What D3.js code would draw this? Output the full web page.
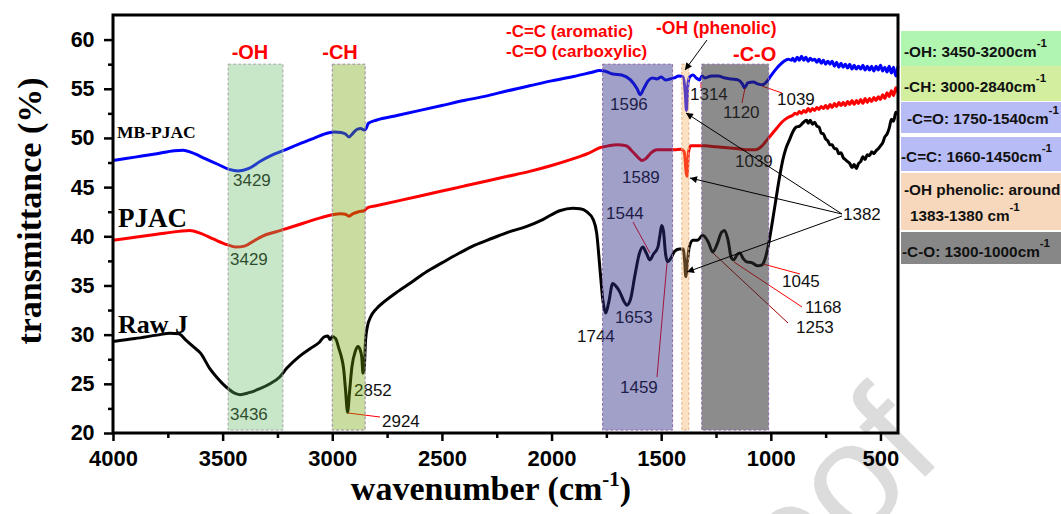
<!DOCTYPE html>
<html><head><meta charset="utf-8">
<script src="https://cdn.jsdelivr.net/npm/d3@7"></script>
<style>body{margin:0;background:#fff}svg{display:block}</style>
</head><body>
<svg id="chart" width="1061" height="514"></svg>
<script>
// ---------- data: FTIR spectra [wavenumber cm-1, transmittance %] ----------
const mbpjac = [
 [4000,47.7],[3900,48.05],[3800,48.4],[3720,48.7],[3680,48.75],[3640,48.5],[3580,47.9],[3520,47.3],[3470,46.8],[3429,46.65],
 [3380,46.9],[3330,47.6],[3280,48.2],[3225,48.7],[3150,49.4],[3080,50.0],[3020,50.5],[2990,50.6],[2960,50.55],[2940,50.4],
 [2924,50.1],[2905,50.5],[2885,50.9],[2870,50.95],[2855,50.8],[2845,51.0],[2835,51.5],[2800,51.8],[2700,52.3],[2600,52.8],
 [2500,53.3],[2400,53.8],[2300,54.25],[2200,54.8],[2100,55.3],[2000,55.8],[1900,56.25],[1820,56.65],[1780,56.85],[1760,56.8],
 [1720,56.5],[1680,56.4],[1640,55.9],[1610,55.0],[1596,54.4],[1580,55.0],[1560,55.8],[1540,56.1],[1520,56.0],[1500,56.2],
 [1480,55.9],[1460,56.0],[1440,56.1],[1420,56.3],[1400,56.2],[1390,54.5],[1385,52.8],[1378,55.5],[1370,56.2],[1355,56.4],
 [1340,56.1],[1325,55.9],[1314,56.3],[1300,56.1],[1270,56.3],[1240,56.3],[1210,56.1],[1180,56.0],[1150,55.9],[1130,55.5],
 [1120,55.1],[1105,55.6],[1080,55.7],[1060,55.5],[1039,55.4],[1020,55.7],[1000,56.3],[980,56.9],[960,57.4],[940,57.8],
 [920,58.0],[905,57.9],[900,58.1],[890,57.8],[880,58.2],[870,57.9],[860,58.3],[850,57.9],[840,58.2],[830,57.8],
 [820,58.1],[810,57.9],[800,58.0],[790,57.7],[780,58.0],[770,57.6],[760,57.9],[750,57.5],[740,57.8],[730,57.5],
 [720,57.8],[710,57.3],[700,57.7],[690,57.2],[680,57.6],[670,57.2],[660,57.5],[650,57.1],[640,57.5],[630,57.0],
 [620,57.4],[610,57.0],[600,57.3],[590,57.0],[580,57.4],[570,56.9],[560,57.3],[550,56.9],[540,57.3],[530,56.8],
 [520,57.3],[510,56.9],[500,57.4],[490,56.8],[480,57.2],[470,56.7],[460,57.3],[450,56.6],[440,57.2],[430,56.3],[420,57.3]
];
const pjac = [
 [4000,39.6],[3900,39.9],[3800,40.2],[3700,40.5],[3650,40.6],[3600,40.3],[3540,39.7],[3480,39.15],[3440,38.9],[3400,39.0],
 [3360,39.5],[3320,40.0],[3250,40.5],[3150,41.2],[3050,41.9],[3000,42.2],[2960,42.3],[2940,42.25],[2924,42.05],[2905,42.3],
 [2880,42.5],[2855,42.6],[2840,42.9],[2800,43.1],[2700,43.6],[2600,44.1],[2500,44.6],[2400,45.1],[2300,45.6],[2200,46.1],
 [2100,46.6],[2000,47.2],[1900,47.9],[1830,48.45],[1780,49.0],[1740,49.2],[1700,49.3],[1660,49.2],[1630,48.6],[1600,47.9],
 [1589,47.7],[1570,47.9],[1545,48.5],[1520,48.8],[1480,48.8],[1440,48.8],[1410,48.85],[1395,48.6],[1386,46.5],[1382,46.1],
 [1376,48.5],[1365,49.2],[1330,49.2],[1300,49.2],[1250,49.1],[1200,49.0],[1150,48.9],[1100,48.8],[1070,48.8],[1040,49.2],
 [1010,50.0],[980,50.8],[950,51.6],[920,52.1],[900,52.3],[890,52.5],[880,52.4],[870,52.7],[860,52.5],[850,52.8],
 [840,52.6],[830,53.0],[820,52.7],[810,53.0],[800,52.8],[790,53.1],[780,52.9],[770,53.2],[760,53.0],[750,53.3],
 [740,53.0],[730,53.4],[720,53.1],[710,53.5],[700,53.2],[690,53.6],[680,53.3],[670,53.6],[660,53.3],[650,53.7],
 [640,53.4],[630,53.8],[620,53.4],[610,53.8],[600,53.5],[590,53.9],[580,53.5],[570,54.0],[560,53.6],[550,54.0],
 [540,53.7],[530,54.1],[520,53.8],[510,54.2],[500,53.9],[490,54.4],[480,54.0],[470,54.6],[460,54.2],[450,54.8],
 [440,54.3],[430,55.1],[420,54.6]
];
const rawJ = [
 [4000,29.3],[3900,29.6],[3800,29.95],[3740,30.15],[3700,30.1],[3670,29.5],[3630,28.7],[3600,28.1],[3560,26.6],[3520,25.5],
 [3480,24.6],[3440,24.0],[3420,23.9],[3380,24.1],[3330,24.5],[3284,25.0],[3240,25.7],[3207,26.6],[3150,27.8],[3100,28.6],
 [3060,29.2],[3035,29.8],[3020,29.85],[3010,29.5],[3000,29.8],[2985,29.6],[2970,28.6],[2958,27.7],[2948,26.5],[2940,24.5],
 [2930,22.1],[2922,24.0],[2910,26.8],[2895,28.3],[2883,28.8],[2872,28.4],[2865,27.6],[2860,26.1],[2855,26.4],[2848,29.5],
 [2840,30.8],[2825,31.8],[2800,32.6],[2760,33.4],[2700,34.4],[2640,35.3],[2570,36.4],[2500,37.3],[2420,38.3],[2350,39.1],
 [2270,39.8],[2200,40.4],[2113,41.0],[2040,41.7],[1963,42.6],[1903,42.85],[1870,42.8],[1840,42.5],[1810,41.7],[1794,40.3],
 [1780,36.9],[1766,33.5],[1753,32.2],[1740,33.2],[1721,35.2],[1705,34.9],[1690,34.4],[1670,33.4],[1657,33.0],[1640,33.6],
 [1620,36.0],[1600,38.2],[1584,38.9],[1566,38.2],[1552,37.6],[1535,38.2],[1515,38.9],[1505,40.2],[1498,41.1],[1490,40.6],
 [1480,38.2],[1470,37.4],[1455,37.8],[1438,38.5],[1416,38.7],[1400,38.7],[1393,37.5],[1388,35.9],[1380,37.5],[1372,38.9],
 [1355,39.6],[1334,39.6],[1311,40.1],[1285,39.4],[1265,38.4],[1245,39.2],[1225,40.4],[1211,40.6],[1195,39.6],[1180,37.8],
 [1168,37.6],[1155,38.1],[1142,38.3],[1125,37.7],[1110,37.4],[1085,37.3],[1060,37.0],[1040,37.1],[1025,37.8],[1012,39.0],
 [992,41.6],[975,44.0],[960,46.05],[945,47.8],[930,49.0],[915,49.8],[900,50.6],[885,51.1],[869,51.2],[855,51.5],
 [837,51.8],[830,51.5],[820,51.8],[810,51.4],[800,51.6],[790,51.2],[780,51.1],[770,50.5],[760,50.4],[750,49.9],
 [740,49.7],[730,49.3],[720,49.3],[710,48.9],[700,48.9],[690,48.4],[680,48.5],[670,48.0],[660,47.8],[650,47.6],
 [640,47.4],[630,47.0],[620,47.3],[610,46.9],[600,47.4],[590,47.6],[580,48.1],[570,47.8],[560,48.3],[550,48.2],
 [540,48.6],[530,48.4],[520,48.7],[510,48.9],[500,49.2],[490,49.5],[480,50.1],[470,50.4],[460,51.0],[450,51.9],
 [440,51.7],[430,52.6],[420,52.4]
];

// functional-group bands [high, low] in cm-1
const bandRanges = [[3475,3225],[3000,2850],[1767,1448],[1406,1374],[1315,1010]];
const bandSpan = [20.3, 57.5];

// axis ticks
const xTickValues = [4000,3500,3000,2500,2000,1500,1000,500];
const xMinorValues = [3750,3250,2750,2250,1750,1250,750];
const yTickValues = [20,25,30,35,40,45,50,55,60];
const yMinorValues = [22.5,27.5,32.5,37.5,42.5,47.5,52.5,57.5];

// legend entries
const legendLines = [
 ["-OH: 3450-3200cm"],["-CH: 3000-2840cm"],["-C=O: 1750-1540cm"],["-C=C: 1660-1450cm"],
 ["-OH phenolic: around","1383-1380 cm"],["-C-O: 1300-1000cm"]
];
const seriesNames = ["MB-PJAC","PJAC","Raw J"];

// ---------- layout ----------
const W = 1061, H = 514;
const plot = {left:113, right:898, top:15, bottom:433};
const svg = d3.select("#chart");
const x = d3.scaleLinear().domain([4000,420]).range([plot.left, plot.right]);
const y = d3.scaleLinear().domain([20,62.5]).range([plot.bottom, plot.top]);
const SANS = "'Liberation Sans', Arial, sans-serif";
const SERIF = "'Liberation Serif', 'Times New Roman', serif";

// watermark
svg.append("text").attr("transform","translate(946,456) rotate(-45)")
  .attr("text-anchor","end").attr("font-family",SANS).attr("font-size",155)
  .attr("fill","#dcdcdc").text("Journal Pre-proof");

svg.append("defs").append("marker").attr("id","arr").attr("viewBox","0 0 10 10")
  .attr("refX",10).attr("refY",5).attr("markerWidth",9).attr("markerHeight",7)
  .attr("markerUnits","userSpaceOnUse").attr("orient","auto")
  .append("path").attr("d","M0,0L10,5L0,10z").attr("fill","#000");

// spectra
const line = d3.line().x(d=>x(d[0])).y(d=>y(d[1])).curve(d3.curveMonotoneX);
const series = [
  {data: mbpjac, color:"#0000ff"},
  {data: pjac, color:"#ff0000"},
  {data: rawJ, color:"#000000"}
];
const gLines = svg.append("g");
series.forEach(s=>{
  gLines.append("path").attr("d", line(s.data)).attr("fill","none")
    .attr("stroke", s.color).attr("stroke-width",3).attr("stroke-linejoin","round");
});

// peak labels
const peakLabels = [
 ["3429",233,186],["3429",230,265],["3436",230,420],["2852",354,396],["2924",382,427],
 ["1596",610,110],["1314",690,100],["1120",723,118],["1039",777,105],["1039",735,167],
 ["1589",622,183],["1544",606,219],["1653",615,323],["1744",577,342],["1459",620,393],
 ["1045",782,287],["1168",805,313],["1253",796,333],["1382",843,220]
];
const gLab = svg.append("g").attr("font-family",SANS).attr("font-size",17).attr("fill","#111");
peakLabels.forEach(p=>gLab.append("text").attr("x",p[1]).attr("y",p[2]).text(p[0]));

const leaders = [
 [348,413,380,417,"#ff0000"],[701,82,701,88,"#ff0000"],[745,88,742,103,"#ff0000"],
 [762,86,782,93,"#ff0000"],[633,222,650,253,"#ff0000"],[657,377,667,263,"#ff0000"],
 [763,264,800,274,"#ff0000"],[734,262,802,307,"#ff0000"],[713,253,788,323,"#a00000"]
];
leaders.forEach(l=>svg.append("line").attr("x1",l[0]).attr("y1",l[1]).attr("x2",l[2]).attr("y2",l[3])
  .attr("stroke",l[4]).attr("stroke-width",1));

// band overlays
const bandStyle = [
 {fill:"rgb(97,183,97)", op:0.35, stroke:"#a6a6a6"},
 {fill:"rgb(108,162,0)", op:0.37, stroke:"#9a8aa0"},
 {fill:"rgb(44,44,133)", op:0.45, stroke:"#8a6aa8"},
 {fill:"rgb(243,173,86)", op:0.37, stroke:"#e6b48c"},
 {fill:"rgb(45,45,45)", op:0.55, stroke:"#8a6aa8"}
];
bandRanges.forEach((b,i)=>{
  svg.append("rect").attr("x",x(b[0])).attr("width",x(b[1])-x(b[0]))
    .attr("y",y(bandSpan[1])).attr("height",y(bandSpan[0])-y(bandSpan[1]))
    .attr("fill",bandStyle[i].fill).attr("fill-opacity",bandStyle[i].op)
    .attr("stroke",bandStyle[i].stroke).attr("stroke-width",1).attr("stroke-dasharray","3,2");
});

// arrows
const arrows = [[707,40,685,70],[842,214,686,113],[842,214,690,178],[842,216,687,272]];
arrows.forEach(a=>svg.append("line").attr("x1",a[0]).attr("y1",a[1]).attr("x2",a[2]).attr("y2",a[3])
  .attr("stroke","#000").attr("stroke-width",1).attr("marker-end","url(#arr)"));

// group headings
const heads = [
 ["-OH",250,59,20,"middle"],["-CH",340,59,20,"middle"],
 ["-C=C (aromatic)",506,37,17,"start"],["-C=O (carboxylic)",506,57,17,"start"],
 ["-OH (phenolic)",656,34,17.5,"start"],["-C-O",733,61,20,"start"]
];
heads.forEach(h=>svg.append("text").attr("x",h[1]).attr("y",h[2]).attr("font-size",h[3])
  .attr("text-anchor",h[4]).attr("font-family",SANS).attr("font-weight","bold").attr("fill","#ff0000").text(h[0]));

// series names
const nameLayout = [[117,138,17.5],[118,227,27],[118,333,26]];
seriesNames.forEach((n,i)=>svg.append("text").attr("x",nameLayout[i][0]).attr("y",nameLayout[i][1])
  .attr("font-family",SERIF).attr("font-weight","bold").attr("font-size",nameLayout[i][2]).attr("fill","#000").text(n));

// axes
const xAxis = d3.axisBottom(x).tickValues(xTickValues).tickSize(8).tickFormat(d3.format("d"));
const gx = svg.append("g").attr("transform",`translate(0,${plot.bottom})`).call(xAxis);
gx.selectAll("text").attr("font-family",SANS).attr("font-weight","bold").attr("font-size",22).attr("fill","#000").attr("dy","0.98em");
gx.selectAll(".tick line").attr("stroke-width",2.5);
svg.append("g").attr("transform",`translate(0,${plot.bottom})`)
  .call(d3.axisBottom(x).tickValues(xMinorValues).tickSize(5).tickFormat(""))
  .selectAll(".tick line").attr("stroke-width",2.5);

const yAxis = d3.axisLeft(y).tickValues(yTickValues).tickSize(9);
const gy = svg.append("g").attr("transform",`translate(${plot.left},0)`).call(yAxis);
gy.selectAll("text").attr("font-family",SANS).attr("font-weight","bold").attr("font-size",21.5).attr("fill","#000").attr("dx","-0.3em");
gy.selectAll(".tick line").attr("stroke-width",2.5);
svg.append("g").attr("transform",`translate(${plot.left},0)`)
  .call(d3.axisLeft(y).tickValues(yMinorValues).tickSize(5).tickFormat(""))
  .selectAll(".tick line").attr("stroke-width",2.5);
svg.selectAll(".domain").remove();

// frame
svg.append("rect").attr("x",plot.left).attr("y",plot.top).attr("width",plot.right-plot.left)
  .attr("height",plot.bottom-plot.top).attr("fill","none").attr("stroke","#000").attr("stroke-width",3);

// axis titles
svg.append("text").attr("transform","translate(41,211) rotate(-90)").attr("text-anchor","middle")
  .attr("font-family",SERIF).attr("font-weight","bold").attr("font-size",34).text("transmittance (%)");
const xt = svg.append("text").attr("x",491).attr("y",500).attr("text-anchor","middle")
  .attr("font-family",SERIF).attr("font-weight","bold").attr("font-size",34);
xt.append("tspan").text("wavenumber (cm");
xt.append("tspan").attr("dy",-14).attr("font-size",21).text("-1");
xt.append("tspan").attr("dy",14).text(")");

// legend
const legendRows = [[31,66],[66,101],[102,133],[137,171],[173,230],[232,264]];
const legendColors = ["#b0f5b0","#d2ee9e","#b8bcf6","#b8bcf6","#f8d8bc","#878787"];
const legendText = [[904,[57]],[904,[92]],[907,[124]],[901,[162]],[904,[195,221]],[902,[257]]];
legendLines.forEach((ln,i)=>{
  svg.append("rect").attr("x",901).attr("y",legendRows[i][0]).attr("width",W-901)
    .attr("height",legendRows[i][1]-legendRows[i][0]).attr("fill",legendColors[i]);
  ln.forEach((t,j)=>{
    const tx = svg.append("text").attr("x", j===1 ? 910 : legendText[i][0]).attr("y",legendText[i][1][j])
      .attr("font-family",SANS).attr("font-weight","bold").attr("font-size",15.3).attr("fill","#111");
    tx.append("tspan").text(t);
    if (j===ln.length-1) tx.append("tspan").attr("dy",-10).attr("font-size",11.5).text("-1");
  });
});
</script>
</body></html>
